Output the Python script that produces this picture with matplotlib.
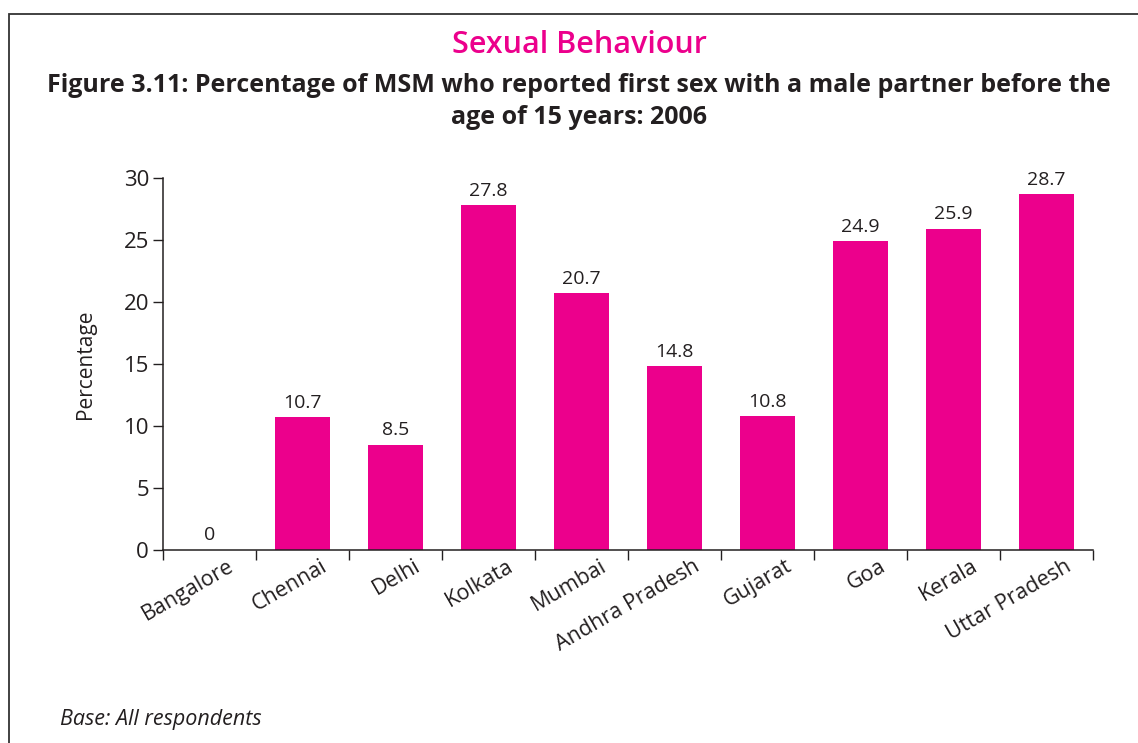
import matplotlib
matplotlib.use("Agg")
import matplotlib.pyplot as plt
from matplotlib.patches import Rectangle
from matplotlib.transforms import ScaledTranslation

plt.rcParams['font.family'] = ['Open Sans', 'DejaVu Sans']

states = ["Bangalore", "Chennai", "Delhi", "Kolkata", "Mumbai",
          "Andhra Pradesh", "Gujarat", "Goa", "Kerala", "Uttar Pradesh"]
percent = [0, 10.7, 8.5, 27.8, 20.7, 14.8, 10.8, 24.9, 25.9, 28.7]
y_ticks = [0, 5, 10, 15, 20, 25, 30]

magenta = "#EC008C"
text_col = "#231F20"

fig = plt.figure(figsize=(11.38, 7.43), dpi=100)

# page frame
fig.patches.append(Rectangle((9 / 1138, -0.1), 1.2, 1 - 14 / 743 + 0.1,
                             transform=fig.transFigure, fill=False,
                             edgecolor="#333333", linewidth=1.3))

ax = fig.add_axes([163 / 1138, 1 - 550 / 743, (1093 - 163) / 1138, (550 - 178) / 743])
x = list(range(len(states)))
ax.bar(x, percent, width=0.6, color=magenta, zorder=2)

for xi, v in zip(x, percent):
    ax.annotate(f"{v:g}", (xi, v), xytext=(0, 4), textcoords="offset points",
                ha="center", va="bottom", fontsize=14, color=text_col)

ax.set_xlim(-0.5, len(states) - 0.5)
ax.set_ylim(0, 30)
ax.set_yticks(y_ticks)
ax.tick_params(axis="y", labelsize=16, length=7, width=1, colors=text_col, pad=3)

# category separators as x ticks
ax.set_xticks([i - 0.5 for i in range(len(states) + 1)], minor=False)
ax.set_xticklabels([])
ax.tick_params(axis="x", which="major", length=7, width=1, color=text_col)
ax.set_xticks(x, minor=True)
ax.set_xticklabels(states, minor=True, rotation=30, ha="right",
                   rotation_mode="anchor", fontsize=15.5, color=text_col)
ax.tick_params(axis="x", which="minor", length=0, pad=4)
shift = ScaledTranslation(18 / 100, 0, fig.dpi_scale_trans)
for lbl in ax.get_xticklabels(minor=True):
    lbl.set_transform(lbl.get_transform() + shift)

for s in ["top", "right"]:
    ax.spines[s].set_visible(False)
for s in ["left", "bottom"]:
    ax.spines[s].set_color(text_col)
    ax.spines[s].set_linewidth(1.1)

ax.set_ylabel("Percentage", fontsize=15, color=text_col, labelpad=20)

fig.text(579 / 1138, 1 - 45 / 743, "Sexual Behaviour", ha="center", va="center",
         fontsize=22, color=magenta, fontweight="semibold")
fig.text(579 / 1138, 1 - 85 / 743,
         "Figure 3.11: Percentage of MSM who reported first sex with a male partner before the",
         ha="center", va="center", fontsize=18, fontweight="bold", color=text_col)
fig.text(579 / 1138, 1 - 118 / 743, "age of 15 years: 2006",
         ha="center", va="center", fontsize=18, fontweight="bold", color=text_col)
fig.text(60 / 1138, 1 - 720 / 743, "Base: All respondents", ha="left", va="center",
         fontsize=15.5, fontstyle="italic", color=text_col)

fig.savefig("out.png", dpi=100)
